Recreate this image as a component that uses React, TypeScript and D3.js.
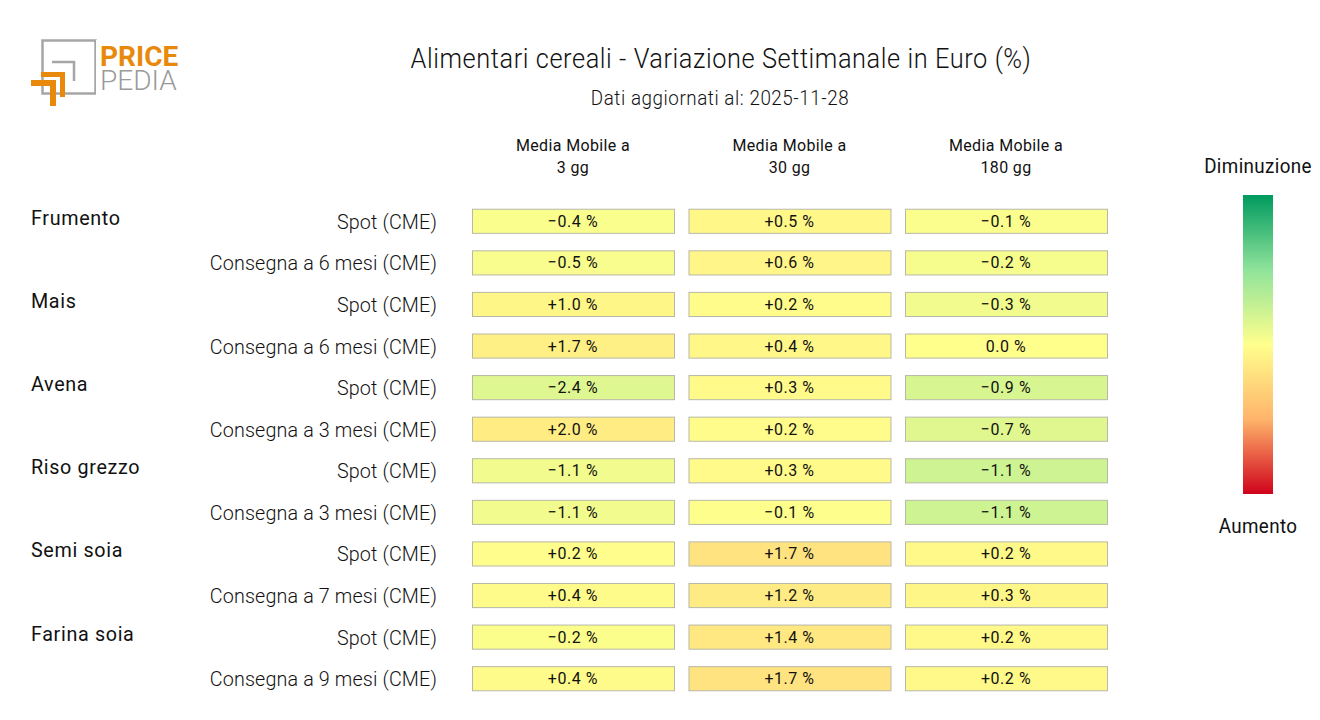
import React from "react";
import * as d3 from "d3";

const title = "Alimentari cereali - Variazione Settimanale in Euro (%)";
const subtitle = "Dati aggiornati al: 2025-11-28";

const columns = ["Media Mobile a|3 gg", "Media Mobile a|30 gg", "Media Mobile a|180 gg"];
const columnRanges = [17, 9, 5];

const groups = ["Frumento", "Mais", "Avena", "Riso grezzo", "Semi soia", "Farina soia"];
const subLabels = [
  "Spot (CME)", "Consegna a 6 mesi (CME)",
  "Spot (CME)", "Consegna a 6 mesi (CME)",
  "Spot (CME)", "Consegna a 3 mesi (CME)",
  "Spot (CME)", "Consegna a 3 mesi (CME)",
  "Spot (CME)", "Consegna a 7 mesi (CME)",
  "Spot (CME)", "Consegna a 9 mesi (CME)",
];
const ma3 = [-0.4, -0.5, 1.0, 1.7, -2.4, 2.0, -1.1, -1.1, 0.2, 0.4, -0.2, 0.4];
const ma30 = [0.5, 0.6, 0.2, 0.4, 0.3, 0.2, 0.3, -0.1, 1.7, 1.2, 1.4, 1.7];
const ma180 = [-0.1, -0.2, -0.3, 0.0, -0.9, -0.7, -1.1, -1.1, 0.2, 0.3, 0.2, 0.2];
const series = [ma3, ma30, ma180];

const scaleStops = ["#009a5e", "#8fe39b", "#ffff8c", "#ffb46b", "#d0021b"];
const legendTop = "Diminuzione";
const legendBottom = "Aumento";

const FONT = "Roboto, sans-serif";
const SX = 0.94;

function CText(props: any) {
  const { x, y, anchor = "start", size, weight = 400, fill = "#111", ls = 0, children } = props;
  return (
    <text
      transform={`translate(${x},${y}) scale(${SX},1)`}
      textAnchor={anchor}
      fontFamily={FONT}
      fontSize={size}
      fontWeight={weight}
      letterSpacing={ls}
      fill={fill}
    >
      {children}
    </text>
  );
}

export default function App() {
  const W = 1320, H = 720;
  const x = d3.scaleBand<number>().domain([0, 1, 2]).range([472, 1107]).paddingInner(0.067).paddingOuter(0);
  const y = d3.scaleBand<number>().domain(d3.range(subLabels.length)).range([200, 699]).paddingInner(0.42).paddingOuter(0.21);
  const fmt = d3.format("+.1f");
  const fmtVal = (v: number) => (v === 0 ? "0.0 %" : fmt(v) + " %");
  const colorFor = (ci: number, v: number) => {
    const R = columnRanges[ci];
    const s = d3.scaleLinear<string>().domain([-R, -R / 2, 0, R / 2, R]).range(scaleStops).interpolate(d3.interpolateRgb).clamp(true);
    return s(v);
  };
  const legendY = d3.scaleLinear().domain([0, 1]).range([195, 494]);

  return (
    <svg width={W} height={H} style={{ position: "absolute", left: 0, top: 0, background: "#fff" }}>
      <defs>
        <linearGradient id="cbar" x1="0" y1="0" x2="0" y2="1">
          {scaleStops.map((c, i) => (
            <stop key={i} offset={i / (scaleStops.length - 1)} stopColor={c} />
          ))}
        </linearGradient>
      </defs>

      {/* logo */}
      <g>
        <rect x={42.5} y={40.5} width={53} height={53} fill="none" stroke="#a6a6a6" strokeWidth={2.5} />
        <polyline points="52,62 74,62 74,81" fill="none" stroke="#a6a6a6" strokeWidth={2.5} />
        <rect x={96} y={40} width={4} height={56} fill="#fff" />
        <path d="M41,72 H65 V97 H60 V77 H41 Z" fill="#e8890c" />
        <path d="M31,80 H56 V106 H50 V86 H31 Z" fill="#e8890c" />
        <text fontFamily={FONT} fontSize={28}>
          <tspan x={100} y={66} fontWeight={700} fill="#e8890c">PRICE</tspan>
          <tspan x={100} y={90} fontWeight={300} fill="#9a9a9a">PEDIA</tspan>
        </text>
      </g>

      <CText x={721} y={68} anchor="middle" size={27} weight={300} ls={0.6}>{title}</CText>
      <CText x={720} y={105} anchor="middle" size={20} weight={300} ls={0.6}>{subtitle}</CText>

      {columns.map((c, ci) => {
        const [l1, l2] = c.split("|");
        const cx = (x(ci) as number) + x.bandwidth() / 2;
        return (
          <g key={ci}>
            <CText x={cx} y={151} anchor="middle" size={17} weight={400} ls={0.4}>{l1}</CText>
            <CText x={cx} y={173} anchor="middle" size={17} weight={400} ls={0.4}>{l2}</CText>
          </g>
        );
      })}

      {groups.map((g, gi) => {
        const yc = (y(gi * 2) as number) + y.bandwidth() / 2;
        return (
          <CText key={g} x={31} y={yc + 4} size={21} weight={400} ls={0.7}>{g}</CText>
        );
      })}

      {subLabels.map((s, ri) => {
        const yc = (y(ri) as number) + y.bandwidth() / 2;
        return (
          <CText key={ri} x={437} y={yc + 8} anchor="end" size={21} weight={300} ls={0.15}>{s}</CText>
        );
      })}

      {series.map((vals, ci) =>
        vals.map((v, ri) => {
          const x0 = x(ci) as number;
          const y0 = y(ri) as number;
          return (
            <g key={`${ci}-${ri}`}>
              <rect x={x0 + 0.5} y={y0 + 0.5} width={x.bandwidth()} height={y.bandwidth()} fill={colorFor(ci, v)} stroke="#b8b8a8" strokeWidth={1} />
              <CText x={x0 + x.bandwidth() / 2} y={y0 + y.bandwidth() / 2 + 6} anchor="middle" size={17} weight={400} ls={0.6}>{fmtVal(v)}</CText>
            </g>
          );
        })
      )}

      <rect x={1243} y={legendY(0)} width={30} height={legendY(1) - legendY(0)} fill="url(#cbar)" />
      <CText x={1258} y={173} anchor="middle" size={20} weight={400} ls={0.4}>{legendTop}</CText>
      <CText x={1258} y={533} anchor="middle" size={20} weight={400} ls={0.4}>{legendBottom}</CText>
    </svg>
  );
}
